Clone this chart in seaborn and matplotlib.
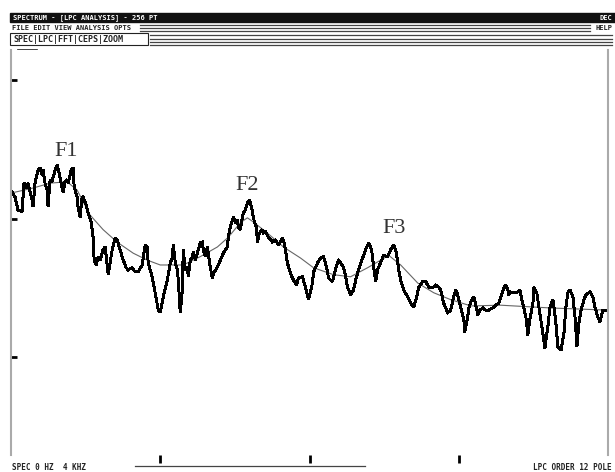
import matplotlib
matplotlib.use("Agg")
import matplotlib.pyplot as plt
import seaborn as sns
import pandas as pd
from matplotlib.patches import Rectangle

# ---- data (Hz, dB) ----
spec_freq = [7, 27, 47, 74, 87, 107, 114, 141, 148, 161, 181, 195, 208, 215, 228, 242, 248,
             262, 275, 295, 309, 322, 336, 349, 362, 376, 383, 403, 416, 423, 443, 450, 463,
             476, 483, 503, 517, 537, 550, 557, 570, 584, 597, 617, 631, 644, 651, 664, 678,
             698, 711, 731, 752, 772, 785, 812, 832, 852, 879, 899, 913, 919, 946, 966, 987,
             1000, 1020, 1047, 1067, 1080, 1087, 1101, 1114, 1121, 1134, 1148, 1154, 1168,
             1181, 1188, 1201, 1215, 1221, 1235, 1248, 1255, 1268, 1282, 1288, 1302, 1315,
             1322, 1335, 1349, 1356, 1383, 1403, 1423, 1450, 1456, 1470, 1483, 1490, 1503,
             1517, 1523, 1537, 1550, 1557, 1570, 1584, 1597, 1611, 1624, 1631, 1644, 1651,
             1664, 1685, 1691, 1705, 1725, 1752, 1772, 1792, 1819, 1825, 1839, 1852, 1872,
             1893, 1913, 1926, 1953, 1973, 1993, 2020, 2027, 2054, 2074, 2094, 2114, 2128,
             2154, 2161, 2174, 2188, 2195, 2208, 2228, 2242, 2255, 2275, 2295, 2309, 2329,
             2356, 2376, 2396, 2416, 2430, 2443, 2456, 2477, 2497, 2523, 2544, 2564, 2577,
             2590, 2597, 2611, 2631, 2658, 2678, 2698, 2718, 2732, 2758, 2779, 2799, 2825,
             2846, 2866, 2879, 2899, 2926, 2946, 2966, 2980, 2993, 3013, 3034, 3040, 3060,
             3067, 3087, 3101, 3114, 3128, 3141, 3161, 3181, 3201, 3228, 3248, 3268, 3282,
             3302, 3315, 3329, 3335, 3349, 3369, 3396, 3409, 3423, 3436, 3450, 3463, 3476,
             3497, 3503, 3523, 3537, 3550, 3570, 3577, 3597, 3611, 3631, 3638, 3651, 3664,
             3685, 3705, 3718, 3731, 3745, 3765, 3779, 3792, 3805, 3819, 3839, 3852, 3879,
             3899, 3913, 3933, 3946, 3966, 3987]
spec_db = [-16.2, -16.9, -18.8, -19.0, -14.9, -15.6, -14.9, -17.3, -18.3, -14.9, -13.0,
           -12.7, -13.7, -13.0, -14.9, -15.9, -18.3, -14.4, -14.7, -13.0, -12.3, -13.4,
           -14.9, -16.2, -14.7, -14.4, -14.9, -13.0, -12.7, -15.4, -16.9, -18.5, -19.8,
           -17.0, -16.9, -18.0, -19.2, -20.5, -22.7, -26.0, -26.7, -25.5, -26.0, -24.5,
           -24.1, -26.7, -28.1, -26.4, -24.5, -22.8, -23.1, -24.5, -26.0, -27.1, -27.4,
           -27.1, -27.7, -27.7, -26.7, -23.8, -24.1, -26.4, -28.4, -30.7, -33.2, -33.5,
           -31.3, -28.9, -26.4, -25.7, -23.8, -26.4, -27.4, -28.9, -33.6, -30.3, -24.5,
           -27.4, -27.0, -28.4, -26.0, -25.5, -24.8, -26.0, -25.0, -24.5, -23.5, -23.4,
           -24.5, -25.5, -24.1, -25.0, -27.0, -28.6, -27.9, -27.0, -26.0, -25.0, -24.1,
           -22.7, -21.2, -20.2, -19.8, -20.6, -20.2, -21.2, -21.6, -19.8, -19.2, -18.8,
           -17.7, -17.3, -18.3, -19.8, -20.5, -21.2, -23.4, -22.1, -21.6, -22.1, -21.9,
           -22.7, -23.4, -23.1, -23.8, -22.8, -23.1, -24.5, -26.4, -27.9, -28.9, -29.6,
           -28.6, -28.4, -29.9, -31.7, -29.3, -27.7, -26.4, -25.7, -25.5, -27.0, -28.6,
           -29.1, -28.4, -27.4, -26.3, -26.0, -26.4, -27.0, -28.4, -29.9, -31.0, -30.3,
           -28.9, -27.4, -25.7, -24.5, -23.5, -24.5, -27.0, -29.1, -27.4, -26.3, -25.3,
           -25.5, -24.5, -23.8, -24.5, -26.0, -27.4, -28.9, -30.3, -31.3, -32.2, -32.8,
           -31.3, -29.9, -29.1, -29.1, -29.9, -30.0, -29.6, -29.9, -30.3, -32.2, -33.6,
           -33.2, -31.3, -30.3, -31.0, -32.8, -34.6, -36.4, -34.2, -32.9, -31.7, -31.3,
           -32.5, -33.9, -33.2, -32.9, -33.2, -33.2, -32.9, -32.5, -32.2, -31.3, -30.0,
           -29.6, -30.3, -31.0, -30.6, -30.7, -30.6, -30.3, -31.7, -32.9, -34.2, -36.8,
           -34.6, -32.2, -29.9, -30.7, -32.8, -34.6, -37.5, -38.7, -35.6, -32.8, -31.7,
           -32.8, -35.1, -38.5, -39.0, -36.5, -32.8, -30.7, -30.3, -31.3, -34.2, -38.5,
           -35.1, -33.2, -31.7, -31.0, -30.6, -31.3, -32.8, -34.3, -34.9, -33.2, -33.2]

lpc_freq = [7, 148, 262, 376, 443, 530, 617, 711, 819, 913, 1000, 1154, 1268, 1383, 1456,
            1537, 1584, 1624, 1718, 1825, 1940, 2027, 2161, 2275, 2389, 2477, 2530, 2611,
            2725, 2832, 2946, 3081, 3282, 3617, 3987]
lpc_db = [-16.3, -15.6, -14.9, -14.7, -15.9, -19.5, -21.6, -23.4, -25.0, -26.0, -26.7,
          -26.7, -25.5, -24.1, -22.7, -20.6, -19.9, -20.5, -22.1, -24.1, -25.7, -27.1,
          -28.1, -28.4, -27.1, -26.0, -25.3, -26.7, -29.3, -30.7, -31.7, -32.6, -32.5,
          -32.9, -33.2]

formant_labels = ["F1", "F2", "F3"]
formant_freq = [369, 1584, 2564]
formant_db = [-10.4, -15.2, -21.4]

x_ticks = [1000, 2000, 3000]
y_ticks = [0, -20, -40]

# ---- figure ----
W, H = 615, 472
fig = plt.figure(figsize=(W / 100, H / 100), dpi=100)
fig.patch.set_facecolor("white")

# window chrome (decoration drawn in pixel space)
deco = fig.add_axes([0, 0, 1, 1])
deco.set_xlim(0, W)
deco.set_ylim(H, 0)
deco.axis("off")
mono = dict(family="DejaVu Sans Mono", weight="bold")
deco.add_patch(Rectangle((10, 13), 605, 9, color="#111111"))
deco.text(13, 17.5, "SPECTRUM - [LPC ANALYSIS] - 256 PT", color="white", fontsize=5,
          va="center", ha="left", **mono)
deco.text(612, 17.5, "DEC", color="white", fontsize=5, va="center", ha="right", **mono)
for yy in [25, 28, 31]:
    deco.plot([140, 590], [yy, yy], color="#444444", lw=0.9)
deco.text(12, 28, "FILE EDIT VIEW ANALYSIS OPTS", fontsize=5, va="center",
          ha="left", color="#222222", **mono)
deco.text(612, 28, "HELP", fontsize=5, va="center", ha="right", color="#222222", **mono)
for yy in [35, 38.5, 42, 45]:
    deco.plot([150, 612], [yy, yy], color="#444444", lw=0.9)
deco.add_patch(Rectangle((10, 33), 138, 12, fill=False, ec="#222222", lw=0.8))
deco.text(13, 39.5, "SPEC|LPC|FFT|CEPS|ZOOM", fontsize=6, va="center", ha="left",
          color="#222222", **mono)
deco.plot([18, 37], [50, 50], color="#222222", lw=1.2)
deco.text(604, 58, "M 3000", fontsize=5, va="center", ha="right", color="#222222", **mono)
deco.plot([135, 365], [466, 466], color="#444444", lw=0.9)
deco.text(12, 467, "SPEC 0 HZ  4 KHZ", fontsize=5.5, va="center", ha="left",
          color="#222222", **mono)
deco.text(612, 467, "LPC ORDER 12 POLE", fontsize=5.5, va="center", ha="right",
          color="#222222", **mono)

# plot area
left, right, top, bottom = 11, 608, 50, 455
ax = fig.add_axes([left / W, 1 - bottom / H, (right - left) / W, (bottom - top) / H])
ax.set_facecolor("white")

sns.lineplot(x=lpc_freq, y=lpc_db, ax=ax, color="#666666", lw=0.8,
             estimator=None, sort=False)
sns.lineplot(x=spec_freq, y=spec_db, ax=ax, color="black", lw=1.4,
             estimator=None, sort=False, antialiased=False,
             solid_joinstyle="miter")

for lab, fx, fy in zip(formant_labels, formant_freq, formant_db):
    ax.text(fx, fy, lab, fontsize=16, family="Liberation Serif", color="#333333",
            ha="center", va="center")

ax.set_xlim(0, 4000)
ax.set_ylim(-54.1, 4.3)
ax.set_xticks(x_ticks)
ax.set_xticklabels([])
ax.set_yticks(y_ticks)
ax.set_yticklabels([])
ax.tick_params(axis="x", direction="out", length=6, width=2, color="black")
ax.tick_params(axis="y", direction="in", length=4, width=2, color="black")
for s in ["top", "bottom"]:
    ax.spines[s].set_visible(False)
for s in ["left", "right"]:
    ax.spines[s].set_color("#aaaaaa")
    ax.spines[s].set_linewidth(1.5)
ax.set_xlabel("")
ax.set_ylabel("")

fig.savefig("out.png", dpi=100, facecolor="white")
